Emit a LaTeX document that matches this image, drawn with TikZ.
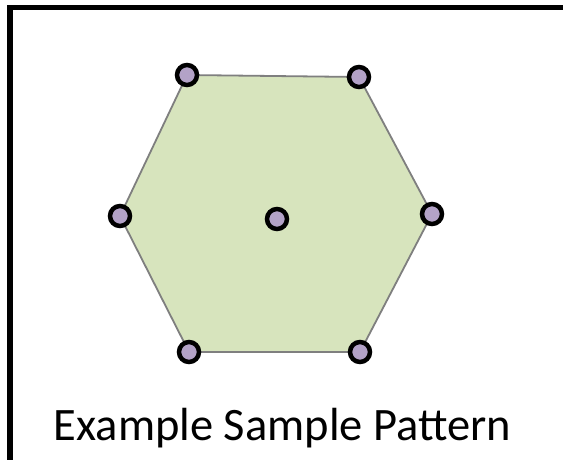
\documentclass[tikz,border=0pt]{standalone}
\usepackage{fontspec}
\setmainfont{Carlito}
\definecolor{hexgreen}{HTML}{D7E4BD}
\definecolor{dotpurple}{HTML}{B3A2C7}
\definecolor{edgegray}{HTML}{7F7F7F}
\begin{document}
\begin{tikzpicture}[
    x=1pt, y=-1pt,
    myhex/.style={draw=edgegray, line width=1.8pt, fill=hexgreen},
    mydot/.style={circle, draw=black, line width=4.5pt, fill=dotpurple, minimum size=20pt, inner sep=0pt},
    mylabel/.style={font=\fontsize{46.5}{54}\selectfont, anchor=base},
]
\useasboundingbox (0,0) rectangle (563,460);
\clip (0,0) rectangle (563,460);
\fill[white] (0,0) rectangle (563,460);

% frame
\draw[line width=5.5pt] (10,500) -- (10,7.5) -- (600,7.5);

% sample points
\coordinate (p1) at (187,75);
\coordinate (p2) at (359,77);
\coordinate (p3) at (432,214);
\coordinate (p4) at (360,352);
\coordinate (p5) at (189,352);
\coordinate (p6) at (120,216);
\coordinate (pc) at (277,219);

\draw[myhex] (p1) -- (p2) -- (p3) -- (p4) -- (p5) -- (p6) -- cycle;

\node[mydot] (d1) at (p1) {};
\node[mydot] (d2) at (p2) {};
\node[mydot] (d3) at (p3) {};
\node[mydot] (d4) at (p4) {};
\node[mydot] (d5) at (p5) {};
\node[mydot] (d6) at (p6) {};
\node[mydot] (dc) at (pc) {};

\node[mylabel] (title) at (282.5,440) {Example Sample Pattern};
\end{tikzpicture}
\end{document}
